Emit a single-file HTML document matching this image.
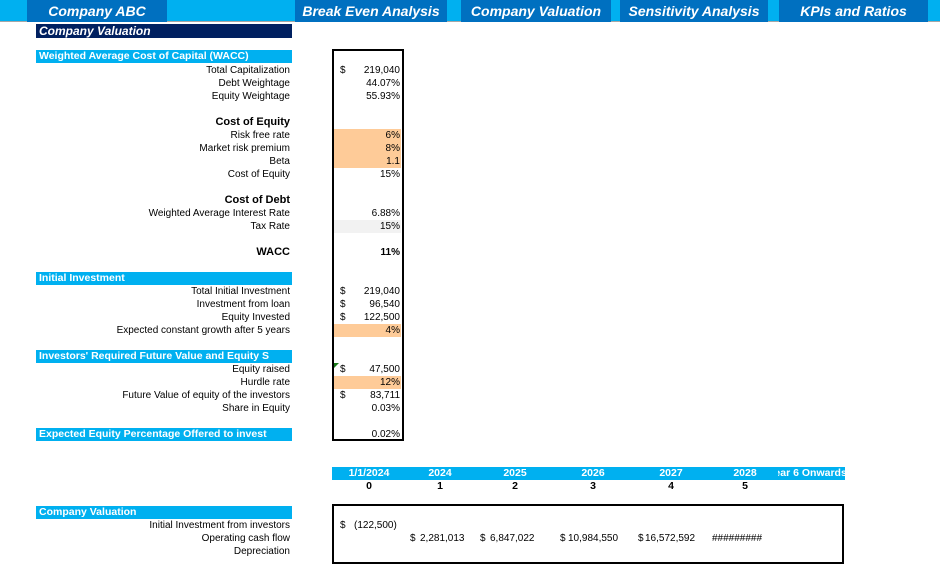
<!DOCTYPE html>
<html><head><meta charset="utf-8">
<style>
body{margin:0;width:940px;height:548px;overflow:hidden;background:#fff;font-family:"Liberation Sans",sans-serif;position:relative}
div{position:absolute;box-sizing:border-box}
.nav{left:0;top:0;width:940px;height:22px;background:#00b0f0;border-bottom:1px solid #a6a6a6}
.tab{top:0;height:22px;background:#0070c0;color:#fff;font-weight:bold;font-style:italic;font-size:14px;line-height:22px;text-align:center;white-space:nowrap}
.lab{left:0;width:290px;text-align:right;font-size:10px;height:13px;line-height:13px;white-space:nowrap;color:#000}
.b{font-weight:bold;font-size:11px}
.hdr{left:36px;width:256px;height:13px;background:#00b0f0;color:#fff;font-weight:bold;font-size:10.5px;line-height:13px;padding-left:3px;white-space:nowrap;overflow:hidden}
.val{left:334px;width:67px;text-align:right;font-size:10px;height:13px;line-height:13px;padding-right:1px}
.dol{left:340px;font-size:10px;height:13px;line-height:13px}
.or{background:#fecb98}
.gr{background:#f2f2f2}
.tl{font-size:10.5px;font-weight:bold;height:13px;line-height:13px;text-align:center;width:60px}
.n{font-size:10px;height:13px;line-height:13px}
</style></head><body>
<div class="nav"></div>
<div class="tab" style="left:27px;width:140px">Company ABC</div>
<div class="tab" style="left:295px;width:152px">Break Even Analysis</div>
<div class="tab" style="left:461px;width:150px">Company Valuation</div>
<div class="tab" style="left:620px;width:148px">Sensitivity Analysis</div>
<div class="tab" style="left:779px;width:149px">KPIs and Ratios</div>

<div style="left:36px;top:24px;width:256px;height:14px;background:#002060;color:#fff;font-weight:bold;font-style:italic;font-size:12px;line-height:14px;padding-left:3px">Company Valuation</div>

<div style="left:332px;top:49px;width:72px;height:392px;border:2px solid #000"></div>

<div class="hdr" style="top:50px">Weighted Average Cost of Capital (WACC)</div>
<div class="lab" style="top:64px">Total Capitalization</div>
<div class="dol" style="top:64px">$</div>
<div class="val" style="top:64px">219,040</div>
<div class="lab" style="top:77px">Debt Weightage</div>
<div class="val" style="top:77px">44.07%</div>
<div class="lab" style="top:90px">Equity Weightage</div>
<div class="val" style="top:90px">55.93%</div>

<div class="lab b" style="top:116px">Cost of Equity</div>
<div class="lab" style="top:129px">Risk free rate</div>
<div class="val or" style="top:129px">6%</div>
<div class="lab" style="top:142px">Market risk premium</div>
<div class="val or" style="top:142px">8%</div>
<div class="lab" style="top:155px">Beta</div>
<div class="val or" style="top:155px">1.1</div>
<div class="lab" style="top:168px">Cost of Equity</div>
<div class="val" style="top:168px">15%</div>

<div class="lab b" style="top:194px">Cost of Debt</div>
<div class="lab" style="top:207px">Weighted Average Interest Rate</div>
<div class="val" style="top:207px">6.88%</div>
<div class="lab" style="top:220px">Tax Rate</div>
<div class="val gr" style="top:220px">15%</div>

<div class="lab b" style="top:246px">WACC</div>
<div class="val" style="top:246px;font-weight:bold">11%</div>

<div class="hdr" style="top:272px">Initial Investment</div>
<div class="lab" style="top:285px">Total Initial Investment</div>
<div class="dol" style="top:285px">$</div>
<div class="val" style="top:285px">219,040</div>
<div class="lab" style="top:298px">Investment from loan</div>
<div class="dol" style="top:298px">$</div>
<div class="val" style="top:298px">96,540</div>
<div class="lab" style="top:311px">Equity Invested</div>
<div class="dol" style="top:311px">$</div>
<div class="val" style="top:311px">122,500</div>
<div class="lab" style="top:324px">Expected constant growth after 5 years</div>
<div class="val or" style="top:324px">4%</div>

<div class="hdr" style="top:350px">Investors' Required Future Value and Equity S</div>
<div class="lab" style="top:363px">Equity raised</div>
<div style="left:334px;top:363px;width:0;height:0;border-top:5px solid #1a7a1a;border-right:5px solid transparent"></div>
<div class="dol" style="top:363px">$</div>
<div class="val" style="top:363px">47,500</div>
<div class="lab" style="top:376px">Hurdle rate</div>
<div class="val or" style="top:376px">12%</div>
<div class="lab" style="top:389px">Future Value of equity of the investors</div>
<div class="dol" style="top:389px">$</div>
<div class="val" style="top:389px">83,711</div>
<div class="lab" style="top:402px">Share in Equity</div>
<div class="val" style="top:402px">0.03%</div>

<div class="hdr" style="top:428px">Expected Equity Percentage Offered to invest</div>
<div class="val" style="top:428px">0.02%</div>

<div style="left:332px;top:467px;width:513px;height:13px;background:#00b0f0"></div>
<div class="tl" style="left:339px;top:467px;color:#fff">1/1/2024</div>
<div class="tl" style="left:410px;top:467px;color:#fff">2024</div>
<div class="tl" style="left:485px;top:467px;color:#fff">2025</div>
<div class="tl" style="left:563px;top:467px;color:#fff">2026</div>
<div class="tl" style="left:641px;top:467px;color:#fff">2027</div>
<div class="tl" style="left:715px;top:467px;color:#fff">2028</div>
<div style="left:778px;top:467px;width:67px;height:13px;overflow:hidden;color:#fff;font-weight:bold;font-size:10.5px;line-height:13px;white-space:nowrap;text-indent:-10px">Year 6 Onwards</div>
<div class="tl" style="left:339px;top:480px">0</div>
<div class="tl" style="left:410px;top:480px">1</div>
<div class="tl" style="left:485px;top:480px">2</div>
<div class="tl" style="left:563px;top:480px">3</div>
<div class="tl" style="left:641px;top:480px">4</div>
<div class="tl" style="left:715px;top:480px">5</div>

<div style="left:332px;top:504px;width:512px;height:60px;border:2px solid #000"></div>
<div class="hdr" style="top:506px;left:36px">Company Valuation</div>
<div class="lab" style="top:519px">Initial Investment from investors</div>
<div class="n" style="left:340px;top:519px">$</div>
<div class="n" style="left:354px;top:519px">(122,500)</div>
<div class="lab" style="top:532px">Operating cash flow</div>
<div class="lab" style="top:545px">Depreciation</div>
<div class="n" style="left:410px;top:532px">$</div>
<div class="n" style="left:420px;top:532px;width:36px;text-align:right">2,281,013</div>
<div class="n" style="left:480px;top:532px">$</div>
<div class="n" style="left:490px;top:532px;width:42px;text-align:right">6,847,022</div>
<div class="n" style="left:560px;top:532px">$</div>
<div class="n" style="left:568px;top:532px;width:45px;text-align:right">10,984,550</div>
<div class="n" style="left:638px;top:532px">$</div>
<div class="n" style="left:645px;top:532px;width:47px;text-align:right">16,572,592</div>
<div class="n" style="left:712px;top:532px">#########</div>
</body></html>
